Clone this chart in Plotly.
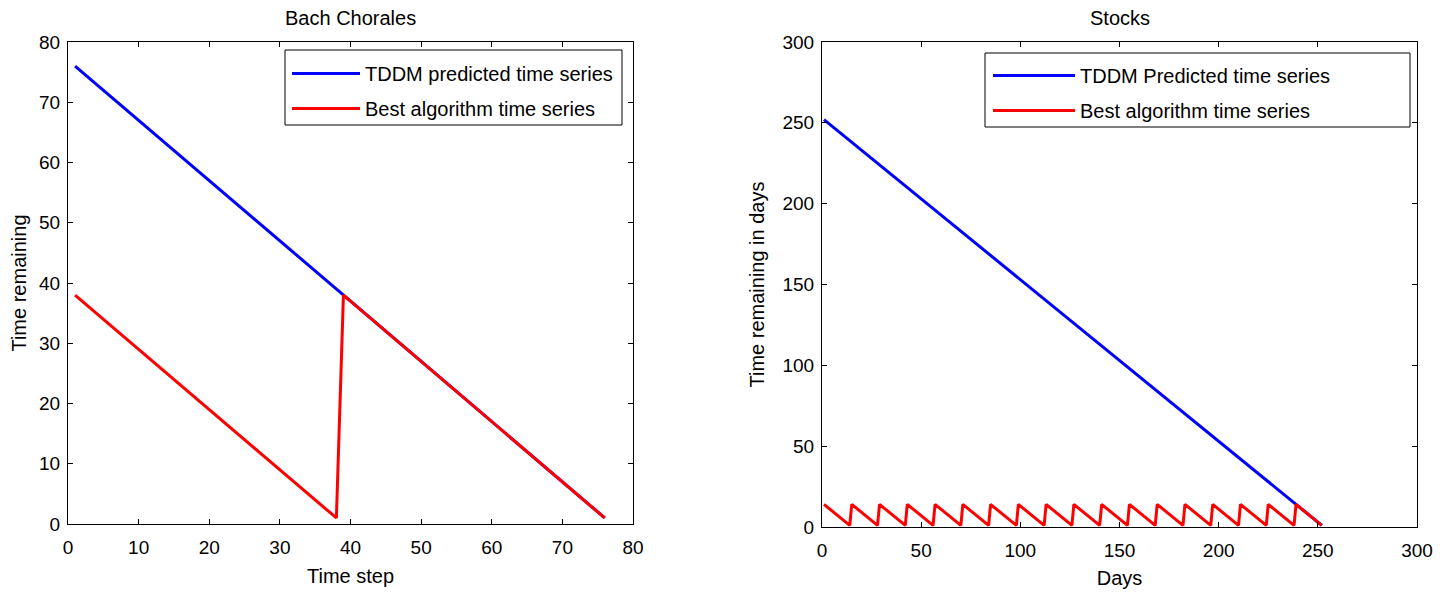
import plotly.graph_objects as go

# ---- Data: Bach Chorales ----
bach_steps_blue = [1, 10, 20, 30, 39, 50, 60, 70, 76]
bach_tddm = [76, 67, 57, 47, 38, 27, 17, 7, 1]
bach_steps_red = [1, 10, 20, 30, 38, 39, 50, 60, 70, 76]
bach_best = [38, 29, 19, 9, 1, 38, 27, 17, 7, 1]

# ---- Data: Stocks ----
stock_days_blue = [1, 25, 50, 75, 100, 125, 150, 175, 200, 225, 252]
stock_tddm = [252, 228, 203, 178, 153, 128, 103, 78, 53, 28, 1]
stock_days_red = [1, 14, 15, 28, 29, 42, 43, 56, 57, 70, 71, 84, 85, 98, 99, 112,
                  113, 126, 127, 140, 141, 154, 155, 168, 169, 182, 183, 196, 197,
                  210, 211, 224, 225, 238, 239, 252]
stock_best = [14, 1, 14, 1, 14, 1, 14, 1, 14, 1, 14, 1, 14, 1, 14, 1, 14, 1,
              14, 1, 14, 1, 14, 1, 14, 1, 14, 1, 14, 1, 14, 1, 14, 1, 14, 1]

left_names = ["TDDM predicted time series", "Best algorithm time series"]
right_names = ["TDDM Predicted time series", "Best algorithm time series"]
left_ticks = [0, 10, 20, 30, 40, 50, 60, 70, 80]
right_ticks = [0, 50, 100, 150, 200, 250, 300]

W, H = 1449, 592
OFF = 8  # page body margin
FONT = "Liberation Sans, Arial, sans-serif"
BLUE = "rgb(0,0,255)"
RED = "rgb(255,0,0)"
FS = 20

fig = go.Figure()
fig.add_trace(go.Scatter(x=bach_steps_blue, y=bach_tddm, mode="lines", name=left_names[0],
                         line=dict(color=BLUE, width=3), xaxis="x", yaxis="y",
                         legend="legend", legendgroup="a"))
fig.add_trace(go.Scatter(x=bach_steps_red, y=bach_best, mode="lines", name=left_names[1],
                         line=dict(color=RED, width=3), xaxis="x", yaxis="y",
                         legend="legend", legendgroup="b"))
fig.add_trace(go.Scatter(x=stock_days_blue, y=stock_tddm, mode="lines", name=right_names[0],
                         line=dict(color=BLUE, width=3), xaxis="x2", yaxis="y2",
                         legend="legend2", legendgroup="c"))
fig.add_trace(go.Scatter(x=stock_days_red, y=stock_best, mode="lines", name=right_names[1],
                         line=dict(color=RED, width=3), xaxis="x2", yaxis="y2",
                         legend="legend2", legendgroup="d"))

def px_x(p):
    return (p - OFF) / W

def px_y(p):
    return 1 - (p - OFF) / H

axis_common = dict(showline=True, linecolor="black", linewidth=1, mirror="ticks",
                   ticks="inside", ticklen=5, tickcolor="black", showgrid=False,
                   zeroline=False, automargin=False,
                   tickfont=dict(family=FONT, size=19, color="black"),
                   title_font=dict(family=FONT, size=FS, color="black"))

legend_common = dict(xanchor="left", yanchor="top", borderwidth=0,
                     bgcolor="rgba(0,0,0,0)", tracegroupgap=6,
                     font=dict(family=FONT, size=FS, color="black"))

# legend frames (drawn as white boxes over the plot area)
legend_boxes = [(285, 50, 622, 125), (985, 53, 1410, 127)]
shapes = [dict(type="rect", xref="paper", yref="paper", layer="above",
               x0=px_x(x0), x1=px_x(x1), y0=px_y(y1), y1=px_y(y0),
               line=dict(color="black", width=1), fillcolor="white")
          for (x0, y0, x1, y1) in legend_boxes]

fig.update_layout(
    width=W, height=H,
    margin=dict(l=0, r=0, t=0, b=0),
    paper_bgcolor="white", plot_bgcolor="white",
    font=dict(family=FONT, size=FS, color="black"),
    xaxis=dict(domain=[px_x(68), px_x(633)], range=[0, 80], tickvals=left_ticks,
               anchor="y", ticklabelstandoff=6,
               title=dict(text="Time step", standoff=12), **axis_common),
    yaxis=dict(domain=[px_y(524), px_y(42)], range=[0, 80], tickvals=left_ticks,
               anchor="x", ticklabelstandoff=3,
               title=dict(text="Time remaining", standoff=14), **axis_common),
    xaxis2=dict(domain=[px_x(822), px_x(1417)], range=[0, 300], tickvals=right_ticks,
                anchor="y2", ticklabelstandoff=6,
                title=dict(text="Days", standoff=11), **axis_common),
    yaxis2=dict(domain=[px_y(527), px_y(42)], range=[0, 300], tickvals=right_ticks,
                anchor="x2", ticklabelstandoff=3,
                title=dict(text="Time remaining in days", standoff=12), **axis_common),
    legend=dict(x=px_x(287), y=px_y(54), itemwidth=68, **legend_common),
    legend2=dict(x=px_x(988), y=px_y(56), itemwidth=82, **legend_common),
    showlegend=True,
    shapes=shapes,
    annotations=[
        dict(text="Bach Chorales", x=(px_x(68) + px_x(633)) / 2, y=px_y(18),
             xref="paper", yref="paper", showarrow=False, xanchor="center", yanchor="middle",
             font=dict(family=FONT, size=FS, color="black")),
        dict(text="Stocks", x=(px_x(822) + px_x(1417)) / 2, y=px_y(18),
             xref="paper", yref="paper", showarrow=False, xanchor="center", yanchor="middle",
             font=dict(family=FONT, size=FS, color="black")),
    ],
)

fig.write_html("out.html")
